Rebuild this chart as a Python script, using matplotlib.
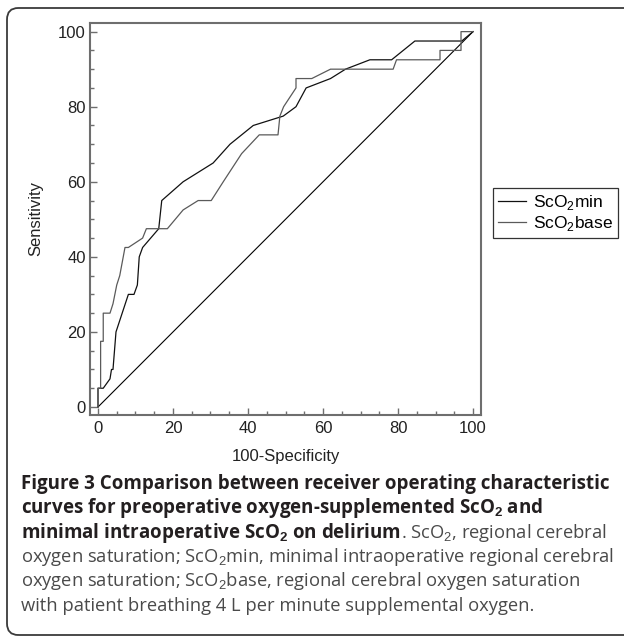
import numpy as np
import matplotlib
matplotlib.use("Agg")
import matplotlib.pyplot as plt
from matplotlib.patches import FancyBboxPatch

plt.rcParams['mathtext.fontset'] = 'custom'
plt.rcParams['mathtext.rm'] = 'Liberation Sans'
plt.rcParams['mathtext.bf'] = 'Liberation Sans:bold'

# ROC curves (100-Specificity, Sensitivity)
min_x = [0, 0, 1.4, 3.2, 3.6, 4.0, 4.8, 8.1, 9.6, 10.5, 11.0, 11.9, 16.2, 17.0, 22.7, 30.7,
         35.2, 41.4, 49.4, 52.8, 55.5, 62.0, 66.0, 72.5, 78.3, 84.5, 97.0, 100]
min_y = [0, 5, 5, 7.5, 10, 10, 20, 30, 30, 32.5, 40, 42.5, 47.5, 55, 60, 65,
         70, 75, 77.5, 80, 85, 87.5, 90, 92.5, 92.5, 97.5, 97.5, 100]

base_x = [0, 0, 0.7, 0.7, 1.4, 1.4, 3.2, 4.0, 5.0, 5.8, 7.2, 8.1, 11.9, 12.9, 18.5, 22.7,
          26.7, 30.2, 33.4, 38.3, 43.0, 48.0, 48.5, 49.5, 52.8, 52.8, 57.0, 62.0, 78.7,
          79.6, 91.2, 91.2, 96.8, 96.8, 100]
base_y = [0, 5, 5, 17.5, 17.5, 25, 25, 27.5, 32.5, 35, 42.5, 42.5, 45, 47.5, 47.5, 52.5,
          55, 55, 60, 67.5, 72.5, 72.5, 77.5, 80, 85, 87.5, 87.5, 90, 90,
          92.5, 92.5, 95, 95, 100, 100]

ticks = [0, 20, 40, 60, 80, 100]

W, H = 624, 640
fig = plt.figure(figsize=(W / 100, H / 100), dpi=100)

# rounded frame around the figure (right side cut off)
frame = FancyBboxPatch((7 / W, 5 / H), 700 / W, (H - 13) / H,
                       boxstyle="round,pad=0,rounding_size=0.018",
                       transform=fig.transFigure, fill=False,
                       edgecolor='#3a3a3a', linewidth=1.3)
fig.patches.append(frame)

ax = fig.add_axes([90 / W, 1 - 415 / H, (481 - 90) / W, (415 - 23) / H])
ax.plot([0, 100], [0, 100], color='black', lw=0.8)
ax.plot(min_x, min_y, color='#111111', lw=0.9, label='ScO$_2$min')
ax.plot(base_x, base_y, color='#5a5a5a', lw=0.9, label='ScO$_2$base')

ax.set_xlim(-2.13, 102.13)
ax.set_ylim(-2.13, 102.3)
ax.set_xticks(ticks)
ax.set_yticks(ticks)
ax.set_xticks(np.arange(0, 101, 5), minor=True)
ax.set_yticks(np.arange(0, 101, 5), minor=True)
ax.tick_params(which='both', direction='in', colors='#6e6e6e', labelcolor='#222222',
               labelsize=12, width=1.0)
ax.tick_params(which='major', length=5)
ax.tick_params(axis='x', which='major', pad=4.5)
ax.tick_params(axis='y', which='major', pad=3)
ax.tick_params(which='minor', length=3)
for lab in ax.get_xticklabels() + ax.get_yticklabels():
    lab.set_family('Liberation Sans')
for s in ax.spines.values():
    s.set_color('#6e6e6e')
    s.set_linewidth(1.5)

ax.set_xlabel('100-Specificity', fontsize=12, family='Liberation Sans', color='#222222', labelpad=9)
ax.set_ylabel('Sensitivity', fontsize=12, family='Liberation Sans', color='#222222', labelpad=11)

leg = fig.legend(loc='upper left', bbox_to_anchor=(493 / W, 1 - 188 / H),
                 prop={'family': 'Liberation Sans', 'size': 12.5},
                 frameon=True, fancybox=False, borderpad=0.3, handlelength=1.6,
                 handletextpad=0.4, labelspacing=0.1, borderaxespad=0)
leg.get_frame().set_edgecolor('black')
leg.get_frame().set_linewidth(0.9)

# caption
cap_x = 21 / W
bold = dict(family='Open Sans', weight='bold', fontsize=13.5, color='#231f20', va='center')
norm = dict(family='Open Sans', fontsize=13.25, color='#4a4a4a', va='center')
rows = [484, 508.5, 533, 557, 581.5, 606]
fig.text(cap_x, 1 - rows[0] / H, 'Figure 3 Comparison between receiver operating characteristic', **bold)
fig.text(cap_x, 1 - rows[1] / H, 'curves for preoperative oxygen-supplemented ScO$_\\mathbf{2}$ and', **bold)
t = fig.text(cap_x, 1 - rows[2] / H, 'minimal intraoperative ScO$_\\mathbf{2}$ on delirium', **bold)
fig.canvas.draw()
bb = t.get_window_extent(renderer=fig.canvas.get_renderer())
fig.text(bb.x1 / W, 1 - rows[2] / H, '. ScO$_2$, regional cerebral', **norm)
fig.text(cap_x, 1 - rows[3] / H, 'oxygen saturation; ScO$_2$min, minimal intraoperative regional cerebral', **norm)
fig.text(cap_x, 1 - rows[4] / H, 'oxygen saturation; ScO$_2$base, regional cerebral oxygen saturation', **norm)
fig.text(cap_x, 1 - rows[5] / H, 'with patient breathing 4 L per minute supplemental oxygen.', **norm)

fig.savefig('out.png', dpi=100)
